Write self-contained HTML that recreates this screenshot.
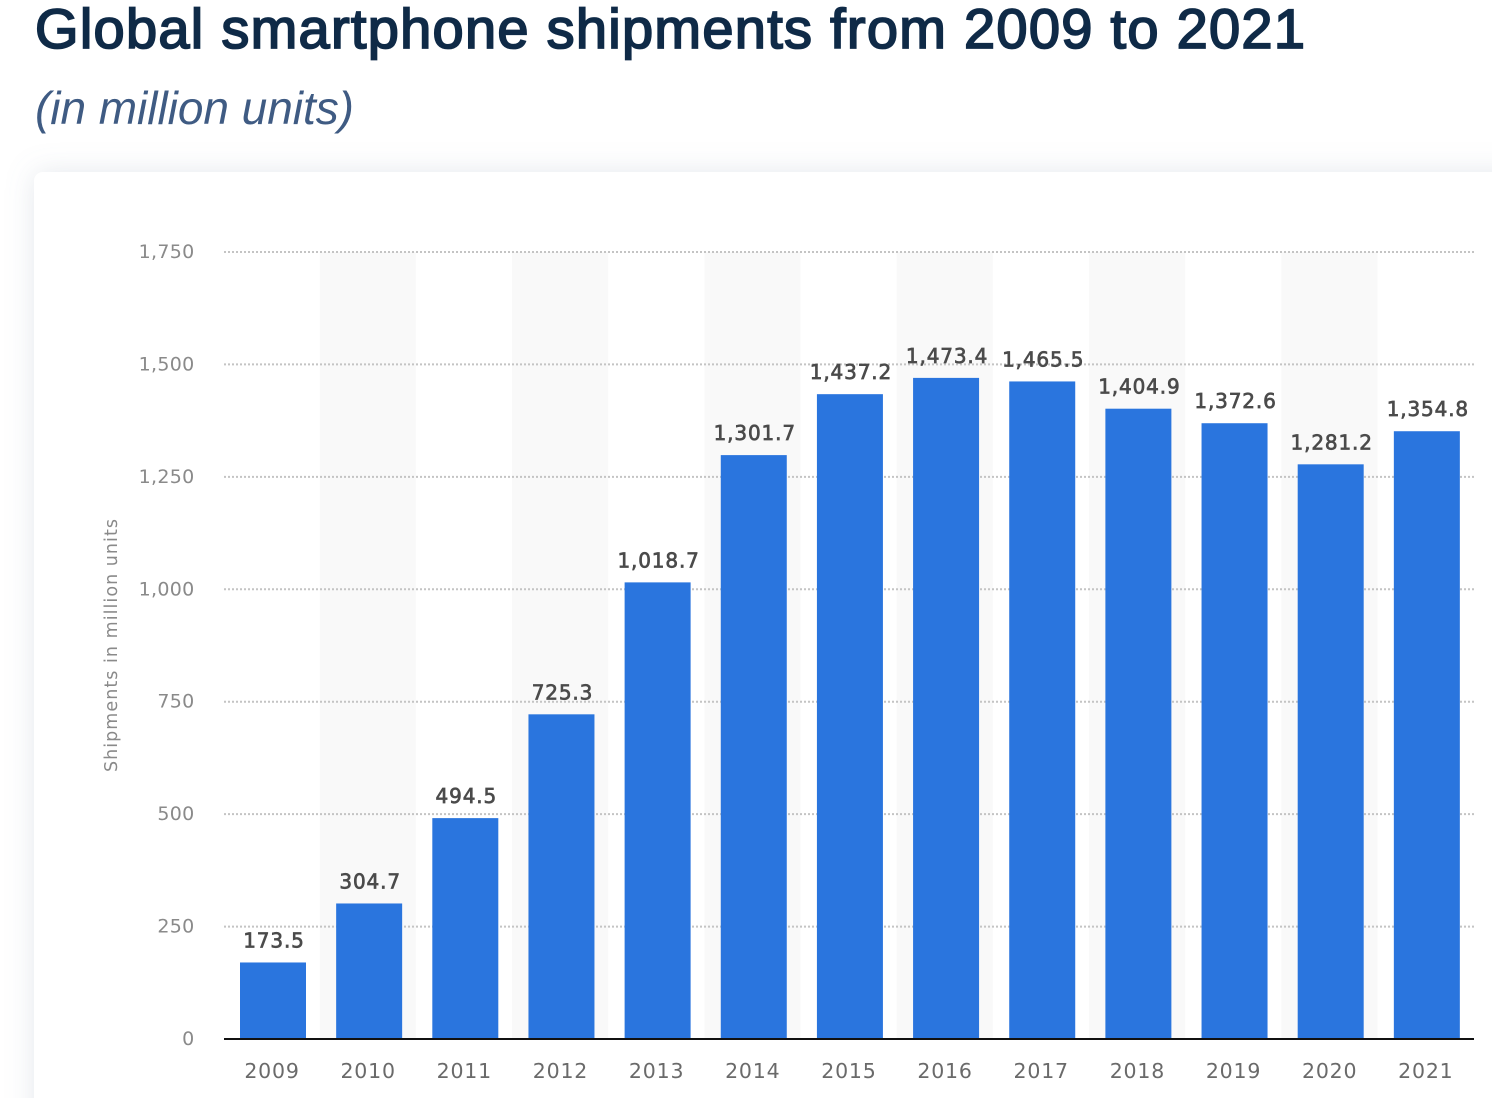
<!DOCTYPE html>
<html lang="en">
<head>
<meta charset="utf-8">
<title>Global smartphone shipments from 2009 to 2021</title>
<style>
html,body{margin:0;padding:0;width:1492px;height:1098px;overflow:hidden;background:#fff}
svg{display:block}
</style>
</head>
<body>
<svg id="chart" width="1492" height="1098" viewBox="0 0 1492 1098" xmlns="http://www.w3.org/2000/svg">
  <defs>
    <filter id="cardShadow" x="-10%" y="-15%" width="120%" height="130%">
      <feDropShadow dx="0" dy="0" stdDeviation="14" flood-color="#8a97ad" flood-opacity="0.22"/>
    </filter>
  </defs>
  <text x="35" y="48" font-family="'Liberation Sans',sans-serif" font-size="56" font-weight="400" fill="#0f2a47" stroke="#0f2a47" stroke-width="1.8" textLength="1270" lengthAdjust="spacing">Global smartphone shipments from 2009 to 2021</text>
  <text x="35" y="124" font-family="'Liberation Sans',sans-serif" font-size="46" font-style="italic" fill="#3f5b83" textLength="319" lengthAdjust="spacing">(in million units)</text>
  <rect x="34" y="172" width="1500" height="980" rx="9" ry="9" fill="#fff" filter="url(#cardShadow)"/>
  <g id="bands"></g>
  <g id="grid"></g>
  <g id="yticks"></g>
  <text transform="translate(117 645.5) rotate(-90)" text-anchor="middle" font-family="'DejaVu Sans',sans-serif" font-size="17.5" fill="#8a8a8a" textLength="253" lengthAdjust="spacing">Shipments in million units</text>
  <g id="bars"></g>
  <g id="values"></g>
  <line id="baseline" stroke="#111" stroke-width="2"></line>
  <g id="xlabels"></g>
</svg>
<script>
const categories = ["2009","2010","2011","2012","2013","2014","2015","2016","2017","2018","2019","2020","2021"];
const shipments = [173.5,304.7,494.5,725.3,1018.7,1301.7,1437.2,1473.4,1465.5,1404.9,1372.6,1281.2,1354.8];
const yTicks = [0,250,500,750,1000,1250,1500,1750];

const NS = "http://www.w3.org/2000/svg";
const plotLeft = 224, plotRight = 1474, plotTop = 252, plotBottom = 1039, yMax = 1750;
const bandWidth = (plotRight - plotLeft) / categories.length;
const barPad = 16;
const barWidth = 66;
const barTopShift = 1.5;
const fmt = new Intl.NumberFormat("en-US");
const fmt1 = new Intl.NumberFormat("en-US", {minimumFractionDigits: 1, maximumFractionDigits: 1});

function xBand(i) { return plotLeft + i * bandWidth; }
function yScale(v) { return plotBottom - (v / yMax) * (plotBottom - plotTop); }
function make(tag, attrs, parent) {
  const el = document.createElementNS(NS, tag);
  for (const k in attrs) el.setAttribute(k, attrs[k]);
  parent.appendChild(el);
  return el;
}

const bandsG = document.getElementById("bands");
const gridG = document.getElementById("grid");
const ytG = document.getElementById("yticks");
const barsG = document.getElementById("bars");
const valuesG = document.getElementById("values");
const xG = document.getElementById("xlabels");
const sans = "'DejaVu Sans',sans-serif";

categories.forEach(function (cat, i) {
  if (i % 2 === 1) {
    const band = make("rect", {x: xBand(i) - 0.4, y: plotTop, width: bandWidth, height: plotBottom - plotTop, fill: "#f9f9f9"}, bandsG);
    
    
  }
});

yTicks.forEach(function (t) {
  const y = yScale(t);
  if (t > 0) {
    const line = make("line", {x1: plotLeft, x2: plotRight, y1: y, y2: y, stroke: "#c4c4c4", "stroke-width": 2, "stroke-dasharray": "2 2"}, gridG);
    
    
  }
  const lab = make("text", {x: 194.5, y: y + 6, "text-anchor": "end", "font-family": sans, "font-size": 19, fill: "#8a8a8a", "letter-spacing": 0.3}, ytG);
  lab.textContent = fmt.format(t);
  
  
});

categories.forEach(function (cat, i) {
  const v = shipments[i];
  const x = xBand(i) + barPad;
  const top = yScale(v) + barTopShift;
  const bar = make("rect", {x: x, y: top, width: barWidth, height: plotBottom - top, fill: "#2a75de"}, barsG);
  
  

  const val = make("text", {x: x + barWidth / 2 + 1, y: top - 15, "text-anchor": "middle", "font-family": sans, "font-size": 20, fill: "#4b4b4b", stroke: "#4b4b4b", "stroke-width": 0.7, "letter-spacing": 0.85}, valuesG);
  val.textContent = fmt1.format(v);
  
  

  const xl = make("text", {x: x + barWidth / 2 - 1, y: 1078, "text-anchor": "middle", "font-family": sans, "font-size": 20.5, fill: "#6a6a6a", "letter-spacing": 0.8}, xG);
  xl.textContent = cat;
  
  
});

const baseline = document.getElementById("baseline");
baseline.setAttribute("x1", plotLeft);
baseline.setAttribute("x2", plotRight);
baseline.setAttribute("y1", plotBottom);
baseline.setAttribute("y2", plotBottom);
</script>
</body>
</html>
